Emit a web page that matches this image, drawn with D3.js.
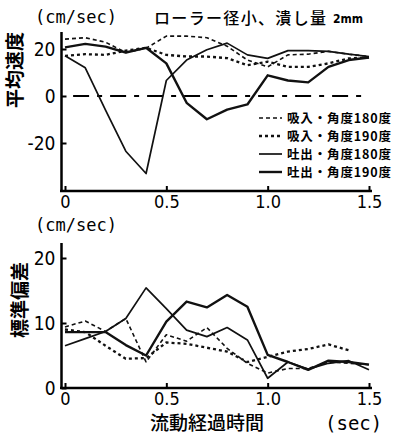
<!DOCTYPE html>
<html>
<head>
<meta charset="utf-8">
<script src="https://d3js.org/d3.v7.min.js"></script>
<style>
  body { margin: 0; background: #fff; }
  .jp { font-family: "Noto Sans CJK JP", sans-serif; font-weight: 700; }
  .num { font-family: "DejaVu Sans Condensed", "DejaVu Sans", sans-serif; font-stretch: condensed; }
  .mono { font-family: "DejaVu Sans Mono", monospace; }
</style>
</head>
<body>
<svg id="vis"></svg>
<script>
  // time points (sec)
  var times = [0, 0.1, 0.2, 0.3, 0.4, 0.5, 0.6, 0.7, 0.8, 0.9, 1.0, 1.1, 1.2, 1.3, 1.4, 1.5]
  var xTicks = [0, 0.5, 1.0, 1.5]

  // mean velocity (cm/sec)
  var meanSuc180 = [24.2, 24.8, 22.9, 18.5, 20.3, 25.5, 25.5, 24.8, 21.2, 15.3, 12.4, 17.5, 17.8, 19.0, 17.8, 16.8]
  var meanSuc190 = [17.1, 17.8, 17.5, 19.3, 20.5, 17.5, 16.8, 16.8, 16.1, 13.1, 14.6, 12.4, 12.4, 13.9, 16.0, 16.4]
  var meanDis180 = [17.1, 12.0, -6.0, -23.5, -33.0, 6.6, 15.3, 19.7, 22.5, 17.5, 16.0, 19.3, 19.3, 19.0, 17.8, 16.8]
  var meanDis190 = [20.7, 22.2, 21.0, 18.5, 20.5, 13.9, -2.9, -9.9, -5.8, -3.6, 8.8, 6.6, 5.8, 12.4, 15.3, 16.4]
  var meanTicks = [-20, 0, 20]

  // standard deviation (cm/sec)
  var sdSuc180 = [9.4, 10.3, 8.7, 10.7, 4.0, 8.2, 7.2, 9.3, 6.1, 3.8, 2.3, 3.0, 3.0, 4.0, 3.8, 3.6]
  var sdSuc190 = [9.0, 8.6, 6.5, 4.5, 4.6, 7.0, 6.8, 6.2, 5.6, 4.0, 4.8, 5.6, 6.0, 6.7, 5.8]
  var sdDis180 = [6.5, 7.6, 8.7, 10.7, 15.4, 12.2, 8.9, 7.9, 9.3, 7.4, 1.5, 4.0, 2.9, 3.8, 4.2, 2.8]
  var sdDis190 = [8.6, 8.6, 8.6, 6.6, 5.0, 10.2, 13.3, 12.4, 14.3, 12.5, 5.1, 4.0, 2.8, 4.2, 4.0, 3.6]
  var sdTicks = [0, 10, 20]

  var legendLabels = ['吸入・角度180度', '吸入・角度190度', '吐出・角度180度', '吐出・角度190度']

  // line styles: suction 180, suction 190, discharge 180, discharge 190
  var styles = [
    {dash: '4,3', w: 1.6},
    {dash: '3,3', w: 2.3},
    {dash: null, w: 1.7},
    {dash: null, w: 2.4}
  ]

  var svg = d3.select('#vis')
    .attr('width', 400)
    .attr('height', 438)

  var x = d3.scaleLinear().domain([0, 1.5]).range([65, 369])
  var yTop = d3.scaleLinear().domain([-20, 20]).range([143, 49])
  var yBot = d3.scaleLinear().domain([0, 20]).range([388, 258])

  function drawSeries(vals, y, st) {
    var line = d3.line()
      .x(function(d, i) { return x(times[i]) })
      .y(function(d) { return y(d) })
    svg.append('path')
      .attr('d', line(vals))
      .attr('fill', 'none')
      .attr('stroke', '#111')
      .attr('stroke-width', st.w)
      .attr('stroke-linejoin', 'round')
      .attr('stroke-dasharray', st.dash)
  }

  function drawAxes(y, ticks, yTopPx, yBase) {
    // axis lines
    svg.append('line').attr('x1', 61.5).attr('x2', 61.5).attr('y1', yTopPx).attr('y2', yBase + 1)
      .attr('stroke', '#000').attr('stroke-width', 2.5)
    svg.append('line').attr('x1', 60).attr('x2', 372).attr('y1', yBase).attr('y2', yBase)
      .attr('stroke', '#000').attr('stroke-width', 2.5)

    var ya = svg.append('g').attr('transform', 'translate(61.5,0)')
      .call(d3.axisLeft(y).tickValues(ticks).tickSize(-5).tickPadding(6).tickFormat(function(d) { return d < 0 ? '-' + Math.abs(d) : d }))
    ya.select('.domain').remove()
    ya.selectAll('line').attr('stroke-width', 2)
    ya.selectAll('text').attr('class', 'num').attr('font-size', 19).attr('fill', '#000')

    var xa = svg.append('g').attr('transform', 'translate(0,' + yBase + ')')
      .call(d3.axisBottom(x).tickValues(xTicks).tickSize(-5).tickPadding(4).tickFormat(function(d) { return d === 0 ? '0' : d.toFixed(1) }))
    xa.select('.domain').remove()
    xa.selectAll('line').attr('stroke-width', 2)
    xa.selectAll('text').attr('class', 'num').attr('font-size', 18).attr('fill', '#000')
  }

  // ---- top panel: mean velocity
  drawAxes(yTop, meanTicks, 32, 191)

  svg.append('line')
    .attr('x1', x(0.04)).attr('x2', x(1.48))
    .attr('y1', yTop(0)).attr('y2', yTop(0))
    .attr('stroke', '#000').attr('stroke-width', 1.8)
    .attr('stroke-dasharray', '16,8,5,8')

  drawSeries(meanSuc180, yTop, styles[0])
  drawSeries(meanSuc190, yTop, styles[1])
  drawSeries(meanDis180, yTop, styles[2])
  drawSeries(meanDis190, yTop, styles[3])

  // legend
  legendLabels.forEach(function(lab, i) {
    var ly = 118 + i * 18
    svg.append('line').attr('x1', 259).attr('x2', 282).attr('y1', ly).attr('y2', ly)
      .attr('stroke', '#111').attr('stroke-width', styles[i].w)
      .attr('stroke-dasharray', styles[i].dash)
    svg.append('text').attr('class', 'jp').attr('x', 287).attr('y', ly + 5)
      .attr('font-size', 12.5).attr('textLength', 104).text(lab)
  })

  svg.append('text').attr('class', 'mono').attr('x', 35).attr('y', 23)
    .attr('font-size', 17).text('(cm/sec)')
  svg.append('text').attr('class', 'jp').attr('x', 154).attr('y', 24)
    .attr('font-size', 16).style('font-weight', 500).attr('textLength', 172).text('ローラー径小、潰し量')
  svg.append('text').attr('class', 'num').attr('x', 333).attr('y', 23)
    .attr('font-size', 12).attr('font-weight', 700).text('2mm')

  svg.append('text').attr('class', 'jp')
    .attr('transform', 'translate(13,70) rotate(-90)')
    .attr('text-anchor', 'middle').attr('dominant-baseline', 'central')
    .attr('font-size', 19).text('平均速度')

  // ---- bottom panel: standard deviation
  drawAxes(yBot, sdTicks, 243, 388)

  drawSeries(sdSuc180, yBot, styles[0])
  drawSeries(sdSuc190, yBot, styles[1])
  drawSeries(sdDis180, yBot, styles[2])
  drawSeries(sdDis190, yBot, styles[3])

  svg.append('text').attr('class', 'mono').attr('x', 35).attr('y', 231)
    .attr('font-size', 17).text('(cm/sec)')
  svg.append('text').attr('class', 'jp')
    .attr('transform', 'translate(18,300) rotate(-90)')
    .attr('text-anchor', 'middle').attr('dominant-baseline', 'central')
    .attr('font-size', 19).text('標準偏差')

  svg.append('text').attr('class', 'jp').attr('x', 207).attr('y', 430)
    .attr('text-anchor', 'middle').attr('font-size', 19).style('font-weight', 500).text('流動経過時間')
  svg.append('text').attr('class', 'mono').attr('x', 325).attr('y', 430)
    .attr('font-size', 19).text('(sec)')
</script>
</body>
</html>
